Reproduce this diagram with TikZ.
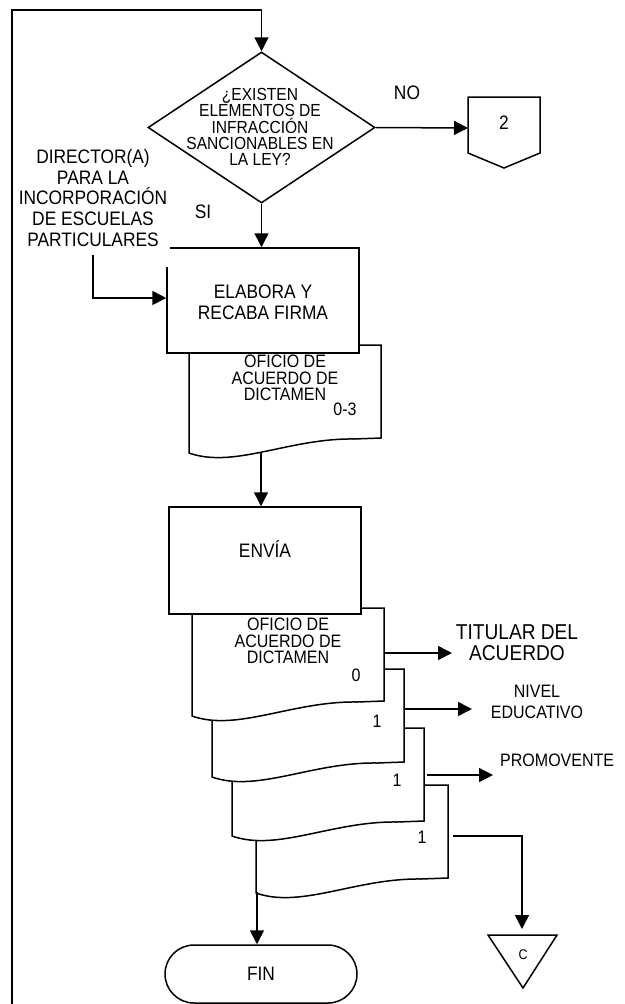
\documentclass[tikz,border=0pt]{standalone}
\usepackage{fontspec}
\setmainfont{Liberation Sans}[FakeStretch=0.89]
\usetikzlibrary{arrows.meta,shapes.geometric}
\tikzset{
  ln/.style={line width=1.5pt},
  arr/.style={ln,-{Triangle[length=14pt,width=14pt]}},
  procbox/.style={draw,ln,fill=white,minimum width=192pt,inner sep=0pt},
  txt/.style={font=\fontsize{19.5}{20.6}\selectfont,align=center,inner sep=0pt},
  dtxt/.style={font=\fontsize{17.5}{16.3}\selectfont,align=center,inner sep=0pt},
  doctxt/.style={font=\fontsize{18}{16.5}\selectfont,align=center,inner sep=0pt},
  numtxt/.style={font=\fontsize{18}{18}\selectfont,inner sep=0pt},
  smalltxt/.style={font=\fontsize{18}{21}\selectfont,align=center,inner sep=0pt},
}
\newcommand{\docsheet}[2]{%
  \begin{scope}[shift={(#1,#2)}]
    \draw[ln,fill=white] (0,0) -- (192,0) -- (192,93) -- (165,94)
      .. controls (100,93) and (45,124) .. (0,108) -- cycle;
  \end{scope}}
\begin{document}
\begin{tikzpicture}[x=1pt,y=-1pt]
\useasboundingbox (0,0) rectangle (624,1004);

% decision
\node[draw,ln,diamond,minimum width=227pt,minimum height=151pt,inner sep=0pt] (dec) at (261.5,127.5) {};
\node[dtxt] (dectext) at (260,127) {¿EXISTEN\\ELEMENTOS DE\\INFRACCIÓN\\SANCIONABLES EN\\LA LEY?};

% loop line
\coordinate (loopS) at (12,1004);
\coordinate (loopC) at (12,10);
\draw[arr] (loopS) -- (loopC) -- (loopC -| dec.north) -- (dec.north);

% off-page connector 2
\node[txt] (p2) at (504,123) {2};
\draw[ln] (468,97) -- (540,97) -- (540,153) -- (504,168) -- (468,153) -- cycle;
\coordinate (p2w) at (468,128);
\draw[arr] (dec.east) -- (p2w);
\node[txt] (no) at (407,93) {NO};
\node[txt] (si) at (203,212) {SI};

% document 1 + ELABORA
\docsheet{189}{345}
\node[doctxt] (doc1t) at (285,378) {OFICIO DE\\ACUERDO DE\\DICTAMEN};
\node[numtxt] (doc1n) at (345,409) {0-3};
\node[procbox,minimum height=105pt] (elab) at (263,300.5) {};
\node[txt] (elabt) at (263,302) {ELABORA Y\\RECABA FIRMA};
\fill[white] (165,245.5) rectangle (170,267);
\draw[arr] (dec.south) -- (dec.south |- elab.north);

% director
\node[txt] (dir) at (93,198) {DIRECTOR(A)\\PARA LA\\INCORPORACIÓN\\DE ESCUELAS\\PARTICULARES};
\coordinate (dirS) at (93,255);
\coordinate (dirC) at (93,298);
\draw[arr] (dirS) -- (dirC) -- (dirC -| elab.west);

% stack of documents
\docsheet{256}{785}
\node[numtxt] (doc5n) at (422,837) {1};
\docsheet{232}{728}
\node[numtxt] (doc4n) at (397,780) {1};
\docsheet{212}{669}
\node[numtxt] (doc3n) at (377,721) {1};
\docsheet{192}{608}
\node[doctxt] (doc2t) at (288,641) {OFICIO DE\\ACUERDO DE\\DICTAMEN};
\node[numtxt] (doc2n) at (356,675) {0};

% ENVIA
\node[procbox,minimum height=107pt] (envia) at (265,560.5) {};
\node[txt] (enviat) at (265,549) {ENVÍA};
\coordinate (d1b) at (261,452);
\draw[arr] (d1b) -- (d1b |- envia.north);

% outputs
\node[font=\fontsize{21.5}{21}\selectfont,align=center,inner sep=0pt] (titular) at (517,643) {TITULAR DEL\\ACUERDO};
\coordinate (d2r) at (384,653);
\coordinate (d2e) at (452,653);
\draw[arr] (d2r) -- (d2e);

\node[smalltxt] (nivel) at (537,701.5) {NIVEL\\EDUCATIVO};
\coordinate (d3r) at (404,709);
\coordinate (d3e) at (472,709);
\draw[arr] (d3r) -- (d3e);

\node[smalltxt,anchor=west] (prom) at (500,760) {PROMOVENTE};
\coordinate (d4r) at (427,775);
\coordinate (d4e) at (493,775);
\draw[arr] (d4r) -- (d4e);

% connector C
\node[font=\fontsize{14}{14}\selectfont,inner sep=0pt] (cc) at (523,955) {C};
\draw[ln] (488,935) -- (557,935) -- (523,988) -- cycle;
\coordinate (d5r) at (453,836);
\coordinate (d5c) at (522,836);
\coordinate (ctip) at (522,929);
\draw[arr] (d5r) -- (d5c) -- (ctip);

% FIN
\node[draw,ln,rounded corners=29pt,minimum width=192pt,minimum height=58pt,inner sep=0pt,font=\fontsize{19.5}{20}\selectfont] (fin) at (261,974) {FIN};
\coordinate (d5b) at (257,892);
\draw[arr] (d5b) -- (d5b |- fin.north);
\end{tikzpicture}
\end{document}
